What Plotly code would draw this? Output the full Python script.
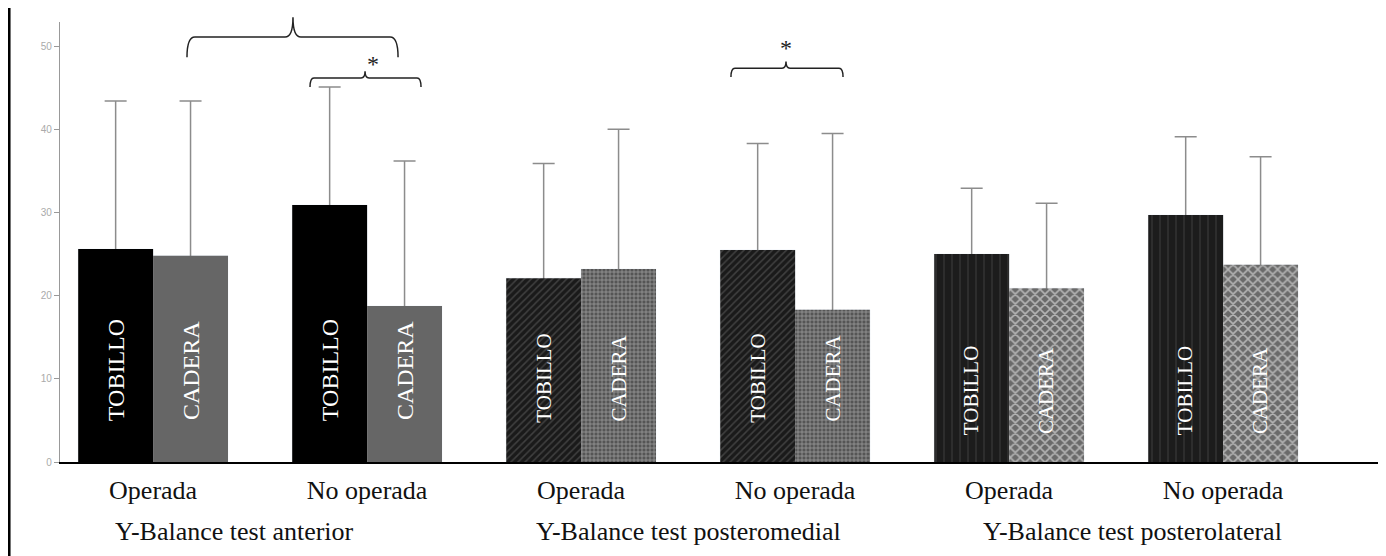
import plotly.graph_objects as go

tests = ["Y-Balance test anterior", "Y-Balance test posteromedial", "Y-Balance test posterolateral"]
sides = ["Operada", "No operada", "Operada", "No operada", "Operada", "No operada"]
test_of_bar = [0, 0, 1, 1, 2, 2]

tobillo_mean = [25.6, 30.9, 22.1, 25.5, 25.0, 29.7]
tobillo_sd = [17.8, 14.2, 13.8, 12.8, 7.9, 9.4]
cadera_mean = [24.8, 18.75, 23.2, 18.3, 20.9, 23.7]
cadera_sd = [18.6, 17.45, 16.8, 21.2, 10.2, 13.0]

y_ticks = [0, 10, 20, 30, 40, 50]

# unique category keys, displayed with the side names
cats = [f"{tests[t]} | {s}" for t, s in zip(test_of_bar, sides)]

# fill style per test: (background, pattern shape, pattern colour, size, solidity)
tob_style = [("#000000", "", "#000000", 6, 0.3),
             ("#1a1a1a", "/", "#404040", 5, 0.3),
             ("#1c1c1c", "|", "#383838", 8, 0.15)]
cad_style = [("#666666", "", "#666666", 6, 0.3),
             ("#555555", "+", "#9a9a9a", 4, 0.35),
             ("#6a6a6a", "x", "#b4b4b4", 7, 0.4)]

serif = "Liberation Serif, Times New Roman, serif"
BARGAP = 0.30
err_style = dict(color="#8c8c8c", thickness=1.5, width=11)

fig = go.Figure()
# whiskers first (drawn below the bars, so only the part above each bar shows)
fig.add_trace(go.Bar(
    x=cats, y=tobillo_mean, offsetgroup="t", marker=dict(color="rgba(0,0,0,0)"),
    error_y=dict(type="data", array=tobillo_sd, arrayminus=tobillo_mean, symmetric=False, **err_style),
    hoverinfo="skip"))
fig.add_trace(go.Bar(
    x=cats, y=cadera_mean, offsetgroup="c", marker=dict(color="rgba(0,0,0,0)"),
    error_y=dict(type="data", array=cadera_sd, arrayminus=cadera_mean, symmetric=False, **err_style),
    hoverinfo="skip"))

for k in range(len(tests)):
    idx = [i for i, t in enumerate(test_of_bar) if t == k]
    for name, grp, means, style in (("TOBILLO", "t", tobillo_mean, tob_style[k]),
                                    ("CADERA", "c", cadera_mean, cad_style[k])):
        bg, shape, fg, size, sol = style
        fig.add_trace(go.Bar(
            x=[cats[i] for i in idx], y=[means[i] for i in idx], name=name, offsetgroup=grp,
            marker=dict(color=bg, line=dict(width=0),
                        pattern=dict(shape=shape, fgcolor=fg, bgcolor=bg,
                                     fillmode="replace", size=size, solidity=sol)),
        ))

annotations = []
off = (1 - BARGAP) / 4
label_y = [11.0, 11.0, 10.1, 10.1, 8.6, 8.6]
label_size = [24, 24, 21, 21, 21, 21]
for i in range(6):
    for name, sign in (("TOBILLO", -1), ("CADERA", 1)):
        annotations.append(dict(
            x=i + sign * off, y=label_y[i], xref="x", yref="y", text=name,
            textangle=-90, showarrow=False,
            font=dict(family=serif, size=label_size[i], color="#ffffff")))

# test names under each pair of categories
title_shift = [-26, 0, 16]
for k, t in enumerate(tests):
    annotations.append(dict(x=2 * k + 0.5, y=-0.159, xref="x", yref="paper", text=t,
                            xshift=title_shift[k], showarrow=False, yanchor="middle",
                            font=dict(family=serif, size=26, color="#111111")))

# significance stars
for xs, ys in ((0.2311, 0.938), (0.5500, 0.974)):
    annotations.append(dict(x=xs, y=ys, xref="paper", yref="paper", text="*",
                            showarrow=False, font=dict(family=serif, size=24, color="#222222")))


def bracket(x0, x1, xc, yh, yend, ytop, r=0.006):
    return (f"M {x0},{yend} Q {x0},{yh} {x0 + r},{yh} L {xc - r},{yh} "
            f"Q {xc},{yh} {xc},{ytop} Q {xc},{yh} {xc + r},{yh} "
            f"L {x1 - r},{yh} Q {x1},{yh} {x1},{yend}")


shapes = [
    dict(type="path", xref="paper", yref="paper",
         path=bracket(0.0962, 0.2561, 0.1765, 0.966, 0.920, 1.011),
         line=dict(color="#222222", width=1.5)),
    dict(type="path", xref="paper", yref="paper",
         path=bracket(0.1894, 0.2735, 0.2311, 0.873, 0.852, 0.888, r=0.003),
         line=dict(color="#222222", width=1.5)),
    dict(type="path", xref="paper", yref="paper",
         path=bracket(0.5083, 0.5932, 0.5500, 0.895, 0.875, 0.910, r=0.003),
         line=dict(color="#222222", width=1.5)),
    dict(type="line", xref="paper", yref="paper", x0=-0.0386, x1=-0.0386, y0=-0.25, y1=1.06,
         line=dict(color="#000000", width=3)),
]

fig.update_layout(
    width=1378, height=548,
    margin=dict(l=52, r=6, t=14, b=94),
    paper_bgcolor="white", plot_bgcolor="white",
    barmode="group", bargap=BARGAP, bargroupgap=0,
    showlegend=False,
    annotations=annotations, shapes=shapes,
    xaxis=dict(type="category", range=[-0.435, 5.733], showline=True,
               categoryorder="array", categoryarray=cats,
               tickvals=cats, ticktext=sides, ticklabelstandoff=4,
               linecolor="#000000", linewidth=2, ticks="",
               tickfont=dict(family=serif, size=26, color="#111111"),
               showgrid=False, zeroline=False),
    yaxis=dict(range=[0, 52.9], tickvals=y_ticks, showline=True, linecolor="#999999",
               linewidth=1.2, ticks="outside", ticklen=5, tickcolor="#999999",
               tickfont=dict(family="Arial, Liberation Sans, sans-serif", size=10, color="#aaaaaa"),
               showgrid=False, zeroline=False),
)

fig.write_html("out.html")
